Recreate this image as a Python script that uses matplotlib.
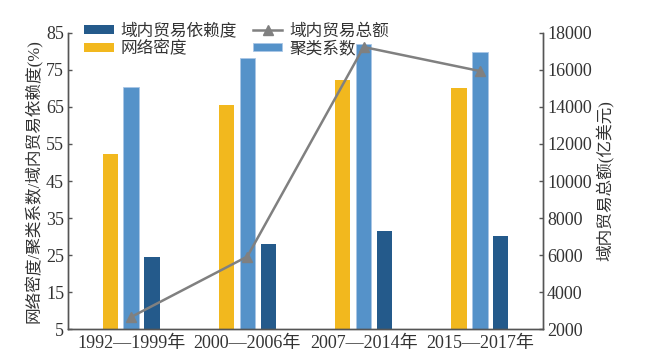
import numpy as np
import matplotlib.pyplot as plt
from matplotlib.lines import Line2D

plt.rcParams['font.family'] = ['Liberation Serif', 'Noto Sans CJK SC']

periods = ['1992—1999年', '2000—2006年', '2007—2014年', '2015—2017年']
density = [52.3, 65.4, 72.2, 70.0]        # 网络密度
clustering = [70.3, 78.2, 82.0, 79.8]     # 聚类系数
dependence = [24.6, 27.9, 31.4, 30.2]     # 域内贸易依赖度
trade_total = [2650, 5920, 17240, 15940]  # 域内贸易总额(亿美元)

c_yellow = '#F2B81E'
c_light = '#5592C9'
c_dark = '#245A8B'
c_line = '#808080'
c_text = '#333333'

fig = plt.figure(figsize=(6.5, 3.62), dpi=100)
ax = fig.add_axes([0.105, 0.091, 0.73, 0.818])
ax2 = ax.twinx()

x = np.arange(len(periods))
w = 0.13
off = 0.18
b1 = ax.bar(x - off, density, w, bottom=0, color=c_yellow, label='网络密度')
b2 = ax.bar(x, clustering, w, color=c_light, edgecolor='#a9c6e6', linewidth=0.6, label='聚类系数')
b3 = ax.bar(x + off, dependence, w, color=c_dark, label='域内贸易依赖度')

ln, = ax2.plot(x, trade_total, color=c_line, lw=1.8, marker='^', markersize=7,
               label='域内贸易总额')

ax.set_xlim(-0.54, 3.54)
ax.set_ylim(5, 85)
ax.set_yticks(np.arange(5, 86, 10))
ax2.set_ylim(2000, 18000)
ax2.set_yticks(np.arange(2000, 18001, 2000))
ax.set_xticks(x)
ax.set_xticklabels(periods)

for a in (ax, ax2):
    a.spines['top'].set_visible(False)
    for s in ('left', 'right', 'bottom'):
        a.spines[s].set_color('#555555')
        a.spines[s].set_linewidth(1.0)
    a.tick_params(direction='in', length=3, width=1, colors='#555555',
                  labelcolor=c_text, labelsize=13, pad=3)
ax.tick_params(axis='x', length=0, pad=4)

ax.set_ylabel('网络密度/聚类系数/域内贸易依赖度(%)', fontsize=12, color=c_text, labelpad=2)
ax2.set_ylabel('域内贸易总额(亿美元)', fontsize=12, color=c_text, labelpad=4)

handles = [b3, b1, ln, b2]
labels = ['域内贸易依赖度', '网络密度', '域内贸易总额', '聚类系数']
ax2.legend(handles, labels, ncol=2, loc='upper left', bbox_to_anchor=(0.02, 1.055),
           frameon=False, fontsize=12, handlelength=1.75, handleheight=0.4,
           labelspacing=0.1, columnspacing=1.0, handletextpad=0.4, borderaxespad=0,
           labelcolor=c_text)

fig.savefig('out.png', dpi=100)
